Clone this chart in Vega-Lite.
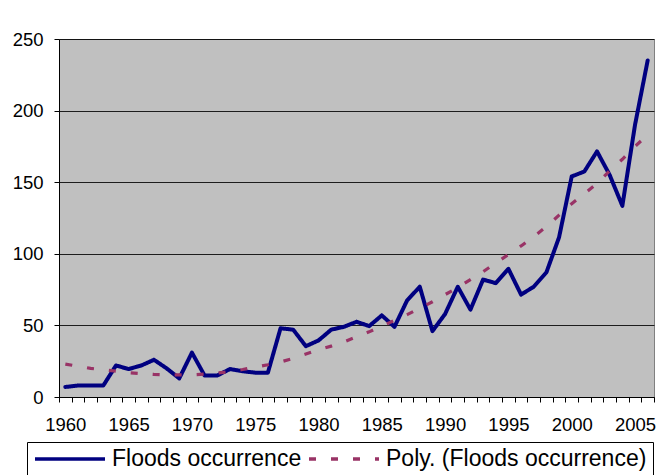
{
  "$schema": "https://vega.github.io/schema/vega-lite/v6.json",
  "autosize": {"type": "none"},
  "width": 595,
  "height": 358,
  "padding": {"left": 59, "top": 39, "right": 2, "bottom": 78},
  "background": "#FFFFFF",
  "config": {
    "view": {"fill": "#C0C0C0", "stroke": "#808080", "strokeWidth": 1},
    "font": "Liberation Sans",
    "axis": {"labelFont": "Liberation Sans", "labelColor": "#000000", "domainColor": "#000000", "tickColor": "#000000", "titleFont": "Liberation Sans"},
    "legend": {"labelFont": "Liberation Sans"}
  },
  "data": {"values": [
    {"year": 1960, "value": 7, "series": "Floods occurrence"},
    {"year": 1961, "value": 8, "series": "Floods occurrence"},
    {"year": 1962, "value": 8, "series": "Floods occurrence"},
    {"year": 1963, "value": 8, "series": "Floods occurrence"},
    {"year": 1964, "value": 22, "series": "Floods occurrence"},
    {"year": 1965, "value": 19.5, "series": "Floods occurrence"},
    {"year": 1966, "value": 22, "series": "Floods occurrence"},
    {"year": 1967, "value": 26, "series": "Floods occurrence"},
    {"year": 1968, "value": 20, "series": "Floods occurrence"},
    {"year": 1969, "value": 13, "series": "Floods occurrence"},
    {"year": 1970, "value": 31, "series": "Floods occurrence"},
    {"year": 1971, "value": 15, "series": "Floods occurrence"},
    {"year": 1972, "value": 15, "series": "Floods occurrence"},
    {"year": 1973, "value": 19.5, "series": "Floods occurrence"},
    {"year": 1974, "value": 18, "series": "Floods occurrence"},
    {"year": 1975, "value": 17, "series": "Floods occurrence"},
    {"year": 1976, "value": 17, "series": "Floods occurrence"},
    {"year": 1977, "value": 48, "series": "Floods occurrence"},
    {"year": 1978, "value": 47, "series": "Floods occurrence"},
    {"year": 1979, "value": 35.5, "series": "Floods occurrence"},
    {"year": 1980, "value": 39.5, "series": "Floods occurrence"},
    {"year": 1981, "value": 47, "series": "Floods occurrence"},
    {"year": 1982, "value": 49, "series": "Floods occurrence"},
    {"year": 1983, "value": 52.5, "series": "Floods occurrence"},
    {"year": 1984, "value": 49.5, "series": "Floods occurrence"},
    {"year": 1985, "value": 57, "series": "Floods occurrence"},
    {"year": 1986, "value": 49, "series": "Floods occurrence"},
    {"year": 1987, "value": 67.5, "series": "Floods occurrence"},
    {"year": 1988, "value": 77, "series": "Floods occurrence"},
    {"year": 1989, "value": 46, "series": "Floods occurrence"},
    {"year": 1990, "value": 58, "series": "Floods occurrence"},
    {"year": 1991, "value": 77, "series": "Floods occurrence"},
    {"year": 1992, "value": 61, "series": "Floods occurrence"},
    {"year": 1993, "value": 82, "series": "Floods occurrence"},
    {"year": 1994, "value": 79.5, "series": "Floods occurrence"},
    {"year": 1995, "value": 89.5, "series": "Floods occurrence"},
    {"year": 1996, "value": 71.5, "series": "Floods occurrence"},
    {"year": 1997, "value": 77, "series": "Floods occurrence"},
    {"year": 1998, "value": 87, "series": "Floods occurrence"},
    {"year": 1999, "value": 111.5, "series": "Floods occurrence"},
    {"year": 2000, "value": 154, "series": "Floods occurrence"},
    {"year": 2001, "value": 157.5, "series": "Floods occurrence"},
    {"year": 2002, "value": 171.5, "series": "Floods occurrence"},
    {"year": 2003, "value": 155, "series": "Floods occurrence"},
    {"year": 2004, "value": 133.5, "series": "Floods occurrence"},
    {"year": 2005, "value": 190, "series": "Floods occurrence"},
    {"year": 2006, "value": 235, "series": "Floods occurrence"},
    {"year": 1960, "value": 23, "series": "Poly. (Floods occurrence)"},
    {"year": 1961, "value": 21.5, "series": "Poly. (Floods occurrence)"},
    {"year": 1962, "value": 20, "series": "Poly. (Floods occurrence)"},
    {"year": 1963, "value": 19, "series": "Poly. (Floods occurrence)"},
    {"year": 1964, "value": 18, "series": "Poly. (Floods occurrence)"},
    {"year": 1965, "value": 17, "series": "Poly. (Floods occurrence)"},
    {"year": 1966, "value": 16.3, "series": "Poly. (Floods occurrence)"},
    {"year": 1967, "value": 15.8, "series": "Poly. (Floods occurrence)"},
    {"year": 1968, "value": 15.5, "series": "Poly. (Floods occurrence)"},
    {"year": 1969, "value": 15.4, "series": "Poly. (Floods occurrence)"},
    {"year": 1970, "value": 15.5, "series": "Poly. (Floods occurrence)"},
    {"year": 1971, "value": 16, "series": "Poly. (Floods occurrence)"},
    {"year": 1972, "value": 16.7, "series": "Poly. (Floods occurrence)"},
    {"year": 1973, "value": 17.8, "series": "Poly. (Floods occurrence)"},
    {"year": 1974, "value": 19.2, "series": "Poly. (Floods occurrence)"},
    {"year": 1975, "value": 20.8, "series": "Poly. (Floods occurrence)"},
    {"year": 1976, "value": 22.5, "series": "Poly. (Floods occurrence)"},
    {"year": 1977, "value": 24.5, "series": "Poly. (Floods occurrence)"},
    {"year": 1978, "value": 27, "series": "Poly. (Floods occurrence)"},
    {"year": 1979, "value": 30, "series": "Poly. (Floods occurrence)"},
    {"year": 1980, "value": 33, "series": "Poly. (Floods occurrence)"},
    {"year": 1981, "value": 35.5, "series": "Poly. (Floods occurrence)"},
    {"year": 1982, "value": 38.5, "series": "Poly. (Floods occurrence)"},
    {"year": 1983, "value": 42, "series": "Poly. (Floods occurrence)"},
    {"year": 1984, "value": 45.5, "series": "Poly. (Floods occurrence)"},
    {"year": 1985, "value": 49.5, "series": "Poly. (Floods occurrence)"},
    {"year": 1986, "value": 53.5, "series": "Poly. (Floods occurrence)"},
    {"year": 1987, "value": 57.5, "series": "Poly. (Floods occurrence)"},
    {"year": 1988, "value": 62, "series": "Poly. (Floods occurrence)"},
    {"year": 1989, "value": 66.5, "series": "Poly. (Floods occurrence)"},
    {"year": 1990, "value": 71.5, "series": "Poly. (Floods occurrence)"},
    {"year": 1991, "value": 76.5, "series": "Poly. (Floods occurrence)"},
    {"year": 1992, "value": 82, "series": "Poly. (Floods occurrence)"},
    {"year": 1993, "value": 87.5, "series": "Poly. (Floods occurrence)"},
    {"year": 1994, "value": 93.5, "series": "Poly. (Floods occurrence)"},
    {"year": 1995, "value": 99.5, "series": "Poly. (Floods occurrence)"},
    {"year": 1996, "value": 105.5, "series": "Poly. (Floods occurrence)"},
    {"year": 1997, "value": 112, "series": "Poly. (Floods occurrence)"},
    {"year": 1998, "value": 119, "series": "Poly. (Floods occurrence)"},
    {"year": 1999, "value": 127, "series": "Poly. (Floods occurrence)"},
    {"year": 2000, "value": 135, "series": "Poly. (Floods occurrence)"},
    {"year": 2001, "value": 142, "series": "Poly. (Floods occurrence)"},
    {"year": 2002, "value": 149, "series": "Poly. (Floods occurrence)"},
    {"year": 2003, "value": 158, "series": "Poly. (Floods occurrence)"},
    {"year": 2004, "value": 166, "series": "Poly. (Floods occurrence)"},
    {"year": 2005, "value": 175, "series": "Poly. (Floods occurrence)"},
    {"year": 2006, "value": 183, "series": "Poly. (Floods occurrence)"}
  ]},
  "encoding": {
    "x": {
      "field": "year", "type": "quantitative",
      "scale": {"domain": [1959.5, 2006.5], "nice": false, "zero": false},
      "axis": {
        "title": null,
        "grid": false,
        "values": [1959.5, 1960.5, 1961.5, 1962.5, 1963.5, 1964.5, 1965.5, 1966.5, 1967.5, 1968.5, 1969.5, 1970.5, 1971.5, 1972.5, 1973.5, 1974.5, 1975.5, 1976.5, 1977.5, 1978.5, 1979.5, 1980.5, 1981.5, 1982.5, 1983.5, 1984.5, 1985.5, 1986.5, 1987.5, 1988.5, 1989.5, 1990.5, 1991.5, 1992.5, 1993.5, 1994.5, 1995.5, 1996.5, 1997.5, 1998.5, 1999.5, 2000.5, 2001.5, 2002.5, 2003.5, 2004.5, 2005.5, 2006.5],
        "labelExpr": "(datum.value + 0.5) % 5 == 0 ? '' + (datum.value + 0.5) : ''",
        "labelOffset": 6.33,
        "labelAlign": "center",
        "tickSize": 5,
        "tickWidth": 1,
        "labelFontSize": 18.5,
        "labelPadding": 13,
        "labelOverlap": false,
        "labelBound": false,
        "labelFlush": false,
        "domainWidth": 1
      }
    },
    "y": {
      "field": "value", "type": "quantitative",
      "scale": {"domain": [0, 250], "nice": false},
      "axis": {
        "title": null,
        "values": [0, 50, 100, 150, 200, 250],
        "grid": true,
        "gridColor": "#000000",
        "gridWidth": 1,
        "gridOpacity": 0.85,
        "tickSize": 5,
        "labelFontSize": 18.5,
        "labelPadding": 11,
        "domainWidth": 1
      }
    },
    "color": {
      "field": "series", "type": "nominal",
      "scale": {"domain": ["Floods occurrence", "Poly. (Floods occurrence)"], "range": ["#000080", "#993366"]},
      "legend": {
        "title": null,
        "orient": "none",
        "legendX": -32,
        "legendY": 403,
        "direction": "horizontal",
        "columns": 2,
        "columnPadding": 5,
        "padding": 6,
        "strokeColor": "#000000",
        "fillColor": "#FFFFFF",
        "symbolType": "stroke",
        "symbolSize": 4900,
        "symbolStrokeWidth": 3.5,
        "labelFontSize": 23,
        "labelColor": "#000000",
        "labelOffset": 5,
        "labelLimit": 0,
        "clipHeight": 22
      }
    },
    "strokeDash": {
      "field": "series", "type": "nominal",
      "scale": {"domain": ["Floods occurrence", "Poly. (Floods occurrence)"], "range": [[1, 0], [7, 15]]},
      "legend": {
        "title": null,
        "orient": "none",
        "legendX": -32,
        "legendY": 403,
        "direction": "horizontal",
        "columns": 2,
        "columnPadding": 5,
        "padding": 6,
        "strokeColor": "#000000",
        "fillColor": "#FFFFFF",
        "symbolType": "stroke",
        "symbolSize": 4900,
        "symbolStrokeWidth": 3.5,
        "labelFontSize": 23,
        "labelColor": "#000000",
        "labelOffset": 5,
        "labelLimit": 0,
        "clipHeight": 22
      }
    }
  },
  "layer": [
    {
      "transform": [{"filter": "datum.series === 'Floods occurrence'"}],
      "mark": {"type": "line", "strokeWidth": 4, "strokeJoin": "round", "strokeCap": "round"}
    },
    {
      "transform": [{"filter": "datum.series === 'Poly. (Floods occurrence)'"}],
      "mark": {"type": "line", "strokeWidth": 3.2, "strokeCap": "butt"}
    }
  ]
}
